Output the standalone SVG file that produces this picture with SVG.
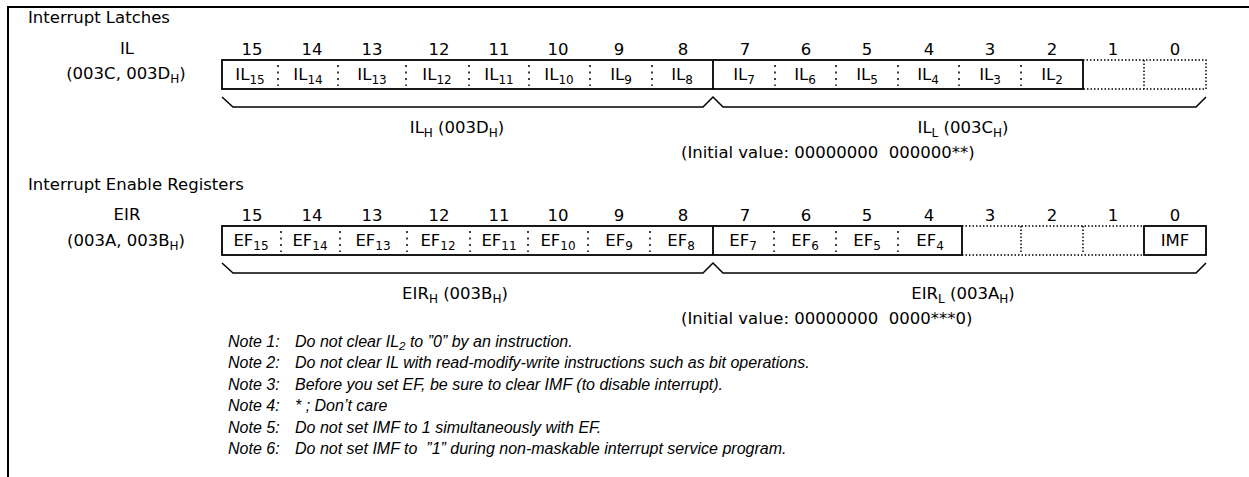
<svg xmlns="http://www.w3.org/2000/svg" width="1249" height="477" viewBox="0 0 1249 477">
<style>
text{font-family:"DejaVu Sans",sans-serif;font-size:16.5px;fill:#000}
.m{text-anchor:middle}
.s{font-size:12px}
.note{font-family:"Liberation Sans",Arial,sans-serif;font-style:italic;font-size:16px}
.box{fill:none;stroke:#000;stroke-width:1.8}
.dot{fill:none;stroke:#000;stroke-width:1.5;stroke-dasharray:1.5 2}
.sep{stroke:#000;stroke-width:1.5;stroke-dasharray:2 4.5}
.brace{fill:none;stroke:#000;stroke-width:1.5}
.frame{stroke:#000;stroke-width:2;fill:none}
</style>
<rect width="1249" height="477" fill="#fff"/>
<path class="frame" d="M8,477 V7 H1249"/>

<g id="il-register">
<text x="28" y="23">Interrupt Latches</text>
<text class="m" x="127" y="54">IL</text>
<text class="m" x="126" y="79">(003C, 003D<tspan class="s" dy="4">H</tspan><tspan dy="-4">)</tspan></text>
<g class="m">
<text x="252" y="55">15</text><text x="312" y="55">14</text><text x="372" y="55">13</text><text x="439" y="55">12</text>
<text x="499" y="55">11</text><text x="558" y="55">10</text><text x="619" y="55">9</text><text x="683" y="55">8</text>
<text x="745" y="55">7</text><text x="806" y="55">6</text><text x="867" y="55">5</text><text x="929" y="55">4</text>
<text x="990" y="55">3</text><text x="1052" y="55">2</text><text x="1113" y="55">1</text><text x="1175" y="55">0</text>
</g>
<rect class="box" x="222" y="60" width="861" height="29"/>
<line class="box" x1="713" y1="60" x2="713" y2="89"/>
<g class="sep">
<line x1="278" y1="65" x2="278" y2="86"/><line x1="338" y1="65" x2="338" y2="86"/><line x1="406" y1="65" x2="406" y2="86"/>
<line x1="469" y1="65" x2="469" y2="86"/><line x1="529" y1="65" x2="529" y2="86"/><line x1="590" y1="65" x2="590" y2="86"/>
<line x1="652" y1="65" x2="652" y2="86"/><line x1="775" y1="65" x2="775" y2="86"/><line x1="836" y1="65" x2="836" y2="86"/>
<line x1="898" y1="65" x2="898" y2="86"/><line x1="959" y1="65" x2="959" y2="86"/><line x1="1021" y1="65" x2="1021" y2="86"/>
</g>
<path class="dot" d="M1083,60 H1206 V89 H1083 M1144,60 V89"/>
<g class="m">
<text x="250" y="80">IL<tspan class="s" dy="4">15</tspan></text>
<text x="308" y="80">IL<tspan class="s" dy="4">14</tspan></text>
<text x="372" y="80">IL<tspan class="s" dy="4">13</tspan></text>
<text x="437" y="80">IL<tspan class="s" dy="4">12</tspan></text>
<text x="499" y="80">IL<tspan class="s" dy="4">11</tspan></text>
<text x="559" y="80">IL<tspan class="s" dy="4">10</tspan></text>
<text x="621" y="80">IL<tspan class="s" dy="4">9</tspan></text>
<text x="682" y="80">IL<tspan class="s" dy="4">8</tspan></text>
<text x="744" y="80">IL<tspan class="s" dy="4">7</tspan></text>
<text x="805" y="80">IL<tspan class="s" dy="4">6</tspan></text>
<text x="867" y="80">IL<tspan class="s" dy="4">5</tspan></text>
<text x="928" y="80">IL<tspan class="s" dy="4">4</tspan></text>
<text x="990" y="80">IL<tspan class="s" dy="4">3</tspan></text>
<text x="1052" y="80">IL<tspan class="s" dy="4">2</tspan></text>
</g>
<text class="m" x="457" y="133">IL<tspan class="s" dy="4">H</tspan><tspan dy="-4"> (003D</tspan><tspan class="s" dy="4">H</tspan><tspan dy="-4">)</tspan></text>
<text class="m" x="963" y="133">IL<tspan class="s" dy="4">L</tspan><tspan dy="-4"> (003C</tspan><tspan class="s" dy="4">H</tspan><tspan dy="-4">)</tspan></text>
<text x="681" y="158" xml:space="preserve">(Initial value: 00000000  000000**)</text>
</g>

<g id="eir-register">
<text x="28" y="190">Interrupt Enable Registers</text>
<text class="m" x="127" y="220">EIR</text>
<text class="m" x="126" y="246">(003A, 003B<tspan class="s" dy="4">H</tspan><tspan dy="-4">)</tspan></text>
<g class="m">
<text x="252" y="221">15</text><text x="312" y="221">14</text><text x="372" y="221">13</text><text x="439" y="221">12</text>
<text x="499" y="221">11</text><text x="558" y="221">10</text><text x="619" y="221">9</text><text x="683" y="221">8</text>
<text x="745" y="221">7</text><text x="806" y="221">6</text><text x="867" y="221">5</text><text x="929" y="221">4</text>
<text x="990" y="221">3</text><text x="1052" y="221">2</text><text x="1113" y="221">1</text><text x="1175" y="221">0</text>
</g>
<rect class="box" x="222" y="226" width="740" height="29"/>
<line class="box" x1="713" y1="226" x2="713" y2="255"/>
<g class="sep">
<line x1="281" y1="231" x2="281" y2="252"/><line x1="340" y1="231" x2="340" y2="252"/><line x1="407" y1="231" x2="407" y2="252"/>
<line x1="470" y1="231" x2="470" y2="252"/><line x1="528" y1="231" x2="528" y2="252"/><line x1="588" y1="231" x2="588" y2="252"/>
<line x1="650" y1="231" x2="650" y2="252"/><line x1="774" y1="231" x2="774" y2="252"/><line x1="836" y1="231" x2="836" y2="252"/>
<line x1="898" y1="231" x2="898" y2="252"/>
</g>
<path class="dot" d="M962,226 H1144 M962,255 H1144 M1021,226 V252 M1083,226 V252"/>
<rect class="box" x="1144" y="226" width="62" height="29"/>
<g class="m">
<text x="251" y="246">EF<tspan class="s" dy="4">15</tspan></text>
<text x="310" y="246">EF<tspan class="s" dy="4">14</tspan></text>
<text x="373" y="246">EF<tspan class="s" dy="4">13</tspan></text>
<text x="438" y="246">EF<tspan class="s" dy="4">12</tspan></text>
<text x="499" y="246">EF<tspan class="s" dy="4">11</tspan></text>
<text x="558" y="246">EF<tspan class="s" dy="4">10</tspan></text>
<text x="619" y="246">EF<tspan class="s" dy="4">9</tspan></text>
<text x="681" y="246">EF<tspan class="s" dy="4">8</tspan></text>
<text x="743" y="246">EF<tspan class="s" dy="4">7</tspan></text>
<text x="805" y="246">EF<tspan class="s" dy="4">6</tspan></text>
<text x="867" y="246">EF<tspan class="s" dy="4">5</tspan></text>
<text x="930" y="246">EF<tspan class="s" dy="4">4</tspan></text>
<text x="1175" y="246">IMF</text>
</g>
<text class="m" x="455" y="299">EIR<tspan class="s" dy="4">H</tspan><tspan dy="-4"> (003B</tspan><tspan class="s" dy="4">H</tspan><tspan dy="-4">)</tspan></text>
<text class="m" x="963" y="299">EIR<tspan class="s" dy="4">L</tspan><tspan dy="-4"> (003A</tspan><tspan class="s" dy="4">H</tspan><tspan dy="-4">)</tspan></text>
<text x="681" y="324" xml:space="preserve">(Initial value: 00000000  0000***0)</text>
</g>

<g id="connectors">
<polyline class="brace" points="222,97 233,107 703,107 713,97 723,107 1196,107 1206,97"/>
<polyline class="brace" points="222,263 233,273 703,273 713,263 723,273 1196,273 1206,263"/>
</g>

<g id="notes">
<text class="note" x="228" y="347">Note 1:</text><text class="note" x="295" y="347">Do not clear IL<tspan font-size="11.5" dy="3">2</tspan><tspan dy="-3"> to ”0” by an instruction.</tspan></text>
<text class="note" x="228" y="368">Note 2:</text><text class="note" x="295" y="368">Do not clear IL with read-modify-write instructions such as bit operations.</text>
<text class="note" x="228" y="390">Note 3:</text><text class="note" x="295" y="390">Before you set EF, be sure to clear IMF (to disable interrupt).</text>
<text class="note" x="228" y="411">Note 4:</text><text class="note" x="295" y="411">* ; Don’t care</text>
<text class="note" x="228" y="433">Note 5:</text><text class="note" x="295" y="433">Do not set IMF to 1 simultaneously with EF.</text>
<text class="note" x="228" y="454">Note 6:</text><text class="note" x="295" y="454" xml:space="preserve">Do not set IMF to  ”1” during non-maskable interrupt service program.</text>
</g>
</svg>
